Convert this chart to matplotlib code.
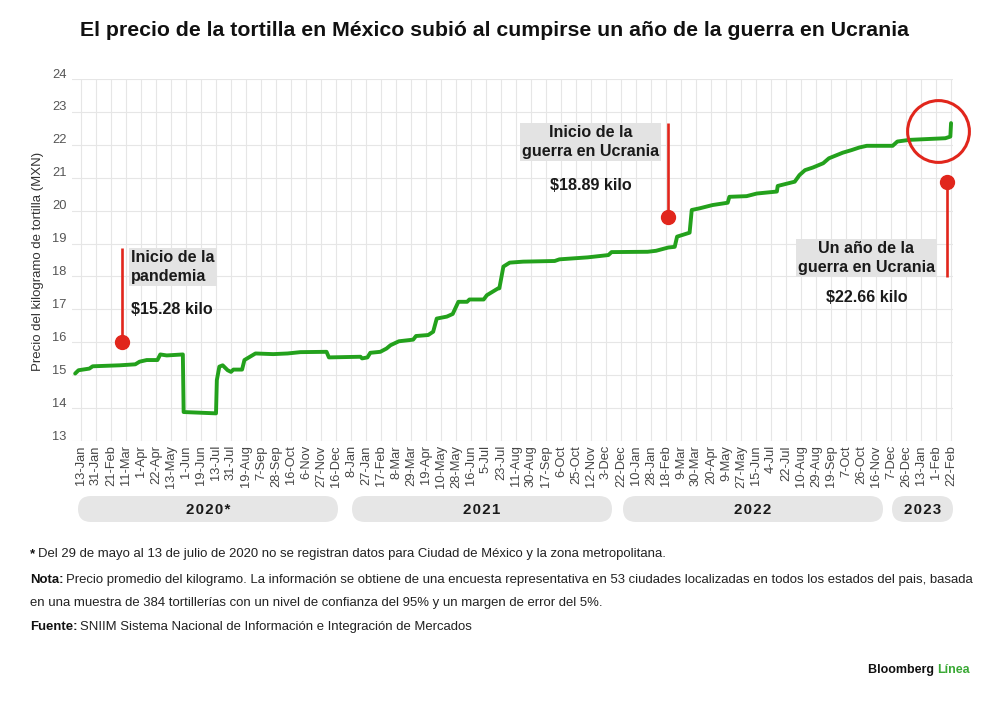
import numpy as np
import matplotlib
matplotlib.use("Agg")
import matplotlib.pyplot as plt
from matplotlib.patches import FancyBboxPatch
from matplotlib.transforms import ScaledTranslation
from matplotlib.text import Annotation
from matplotlib import font_manager

# ---------------- data ----------------
title = "El precio de la tortilla en México subió al cumpirse un año de la guerra en Ucrania"
y_label = "Precio del kilogramo de tortilla (MXN)"

tick_dates = [
    "2020-01-13", "2020-01-31", "2020-02-21", "2020-03-11", "2020-04-01", "2020-04-22",
    "2020-05-13", "2020-06-01", "2020-06-19", "2020-07-13", "2020-07-31", "2020-08-19",
    "2020-09-07", "2020-09-28", "2020-10-16", "2020-11-06", "2020-11-27", "2020-12-16",
    "2021-01-08", "2021-01-27", "2021-02-17", "2021-03-08", "2021-03-29", "2021-04-19",
    "2021-05-10", "2021-05-28", "2021-06-16", "2021-07-05", "2021-07-23", "2021-08-11",
    "2021-08-30", "2021-09-17", "2021-10-06", "2021-10-25", "2021-11-12", "2021-12-03",
    "2021-12-22", "2022-01-10", "2022-01-28", "2022-02-18", "2022-03-09", "2022-03-30",
    "2022-04-20", "2022-05-09", "2022-05-27", "2022-06-15", "2022-07-04", "2022-07-22",
    "2022-08-10", "2022-08-29", "2022-09-19", "2022-10-07", "2022-10-26", "2022-11-16",
    "2022-12-07", "2022-12-26", "2023-01-13", "2023-02-01", "2023-02-22",
]
tick_labels = [
    "13-Jan", "31-Jan", "21-Feb", "11-Mar", "1-Apr", "22-Apr", "13-May", "1-Jun", "19-Jun",
    "13-Jul", "31-Jul", "19-Aug", "7-Sep", "28-Sep", "16-Oct", "6-Nov", "27-Nov", "16-Dec",
    "8-Jan", "27-Jan", "17-Feb", "8-Mar", "29-Mar", "19-Apr", "10-May", "28-May", "16-Jun",
    "5-Jul", "23-Jul", "11-Aug", "30-Aug", "17-Sep", "6-Oct", "25-Oct", "12-Nov", "3-Dec",
    "22-Dec", "10-Jan", "28-Jan", "18-Feb", "9-Mar", "30-Mar", "20-Apr", "9-May", "27-May",
    "15-Jun", "4-Jul", "22-Jul", "10-Aug", "29-Aug", "19-Sep", "7-Oct", "26-Oct", "16-Nov",
    "7-Dec", "26-Dec", "13-Jan", "1-Feb", "22-Feb",
]
y_ticks = list(range(13, 25))
year_labels = ["2020*", "2021", "2022", "2023"]

dates = [
    "2020-01-06", "2020-01-10", "2020-01-23", "2020-01-27", "2020-03-03", "2020-03-24",
    "2020-03-30", "2020-04-09", "2020-04-24", "2020-04-28", "2020-05-07", "2020-05-28",
    "2020-05-29", "2020-07-13", "2020-07-14", "2020-07-17", "2020-07-21", "2020-07-27",
    "2020-07-31", "2020-08-03", "2020-08-14", "2020-08-17", "2020-08-24", "2020-08-31",
    "2020-09-24", "2020-10-12", "2020-10-29", "2020-12-04", "2020-12-07", "2021-01-20",
    "2021-01-22", "2021-01-29", "2021-02-02", "2021-02-16", "2021-02-24", "2021-03-01",
    "2021-03-12", "2021-04-01", "2021-04-05", "2021-04-22", "2021-04-29", "2021-05-04",
    "2021-05-17", "2021-05-24", "2021-05-31", "2021-06-11", "2021-06-14", "2021-07-02",
    "2021-07-06", "2021-07-19", "2021-07-21", "2021-07-26", "2021-08-03", "2021-08-20",
    "2021-09-28", "2021-10-04", "2021-11-08", "2021-12-06", "2021-12-10", "2022-01-24",
    "2022-02-04", "2022-02-21", "2022-03-01", "2022-03-04", "2022-03-21", "2022-03-24",
    "2022-04-04", "2022-04-22", "2022-05-11", "2022-05-13", "2022-06-03", "2022-06-16",
    "2022-07-11", "2022-07-12", "2022-08-02", "2022-08-08", "2022-08-15", "2022-08-25",
    "2022-09-08", "2022-09-16", "2022-10-03", "2022-10-14", "2022-10-24", "2022-11-03",
    "2022-12-09", "2022-12-15", "2022-12-30", "2023-01-16", "2023-02-14", "2023-02-21",
    "2023-02-22",
]
prices = [
    15.05, 15.15, 15.20, 15.27, 15.30, 15.33,
    15.41, 15.46, 15.46, 15.63, 15.60, 15.63,
    13.88, 13.84, 14.85, 15.26, 15.30, 15.15,
    15.10, 15.17, 15.17, 15.46, 15.56, 15.66,
    15.64, 15.66, 15.70, 15.71, 15.54, 15.56,
    15.51, 15.54, 15.68, 15.71, 15.81, 15.91,
    16.03, 16.08, 16.19, 16.22, 16.32, 16.72,
    16.78, 16.86, 17.23, 17.23, 17.30, 17.30,
    17.43, 17.63, 17.64, 18.30, 18.42, 18.45,
    18.47, 18.52, 18.58, 18.65, 18.74, 18.75,
    18.78, 18.88, 18.90, 19.21, 19.33, 20.02,
    20.07, 20.17, 20.24, 20.42, 20.44, 20.52,
    20.58, 20.75, 20.88, 21.08, 21.23, 21.31,
    21.44, 21.59, 21.76, 21.84, 21.92, 21.97,
    21.97, 22.10, 22.15, 22.17, 22.20, 22.25,
    22.66,
]

# annotations: (title, value label, date, line end value, dot value)
ann_pandemic = ("Inicio de la\npandemia", "\\$15.28 kilo", "2020-03-06", 18.86, 16.02)
ann_war = ("Inicio de la\nguerra en Ucrania", "\\$18.89 kilo", "2022-02-21", 22.66, 19.80)
ann_year = ("Un año de la\nguerra en Ucrania", "\\$22.66 kilo", "2023-02-17", 17.99, 20.88)
highlight = ("2023-02-04", 22.42)

footnote = "Del 29 de mayo al 13 de julio de 2020 no se registran datos para Ciudad de México y la zona metropolitana."
nota1 = "Precio promedio del kilogramo. La información se obtiene de una encuesta representativa en 53 ciudades localizadas en todos los estados del pais, basada"
nota2 = "en una muestra de 384 tortillerías con un nivel de confianza del 95% y un margen de error del 5%."
fuente = "SNIIM Sistema Nacional de Información e Integración de Mercados"

# ---------------- styling ----------------
GREEN = "#23a11c"
RED = "#e1261c"
GRID = "#e6e6e6"
names = {f.name for f in font_manager.fontManager.ttflist}
BASE = "Liberation Sans" if "Liberation Sans" in names else "DejaVu Sans"
plt.rcParams["font.family"] = [BASE, "DejaVu Sans"]

W, H = 1000, 701
fig = plt.figure(figsize=(W / 100, H / 100), dpi=100)
fig.patch.set_facecolor("white")


def fx(x):
    return x / W


def fy(y):
    return 1 - y / H


tick_num = np.array(tick_dates, dtype="datetime64[D]").astype(float)
tick_idx = np.arange(len(tick_num), dtype=float)


def to_pos(ds):
    t = np.atleast_1d(np.array(ds, dtype="datetime64[D]").astype(float))
    p = np.interp(t, tick_num, tick_idx)
    lo = t < tick_num[0]
    p[lo] = (t[lo] - tick_num[0]) / (tick_num[1] - tick_num[0])
    hi = t > tick_num[-1]
    p[hi] = tick_idx[-1] + (t[hi] - tick_num[-1]) / (tick_num[-1] - tick_num[-2])
    return p


ax = fig.add_axes([fx(72), fy(441), fx(953) - fx(72), (441 - 79) / H])
ax.set_xlim(-0.6, 58.13)
ax.set_ylim(13, 24)
for s in ax.spines.values():
    s.set_visible(False)
ax.set_xticks(tick_idx)
ax.set_xticklabels(tick_labels, rotation=90, fontsize=9.3, color="#444444")
ax.set_yticks(y_ticks)
ax.set_yticklabels([str(v) for v in y_ticks], fontsize=9.3, color="#555555")
ax.tick_params(axis="both", length=0)
ax.tick_params(axis="x", pad=3)
ax.tick_params(axis="y", pad=4)
for lab in ax.get_yticklabels():
    lab.set_transform(lab.get_transform() + ScaledTranslation(0, 6 / 100, fig.dpi_scale_trans))
ax.grid(True, color=GRID, lw=0.8)
ax.set_axisbelow(True)

# main line
ax.plot(to_pos(dates), prices, color=GREEN, lw=2.8, solid_joinstyle="round",
        solid_capstyle="round", zorder=3, clip_on=False)

PX = 0.72  # points per pixel


def draw_ann(ann, text_off, box_va, val_off, ha):
    head, val, d, y_line, y_dot = ann
    xp = to_pos(d)[0]
    ax.plot([xp, xp], [y_line, y_dot], color=RED, lw=1.9, zorder=4,
            solid_capstyle="butt", clip_on=False)
    ax.plot([xp], [y_dot], "o", color=RED, ms=10, zorder=5, clip_on=False)
    ax.annotate(head, xy=(xp, y_line), xytext=(text_off[0] * PX, text_off[1] * PX),
                textcoords="offset points", ha=ha, va=box_va, fontsize=11.6,
                fontweight="bold", color="#1a1a1a", linespacing=1.32,
                bbox=dict(boxstyle="square,pad=0.14", fc="#e3e3e3", ec="none"), zorder=6)
    ax.annotate(val, xy=(xp, y_line), xytext=(val_off[0] * PX, val_off[1] * PX),
                textcoords="offset points", ha=ha, va="center", fontsize=11.6,
                fontweight="bold", color="#1a1a1a", zorder=6)


draw_ann(ann_pandemic, (9, -2), "top", (9, -61), "left")
draw_ann(ann_war, (-78, -2), "top", (-78, -62), "center")
draw_ann(ann_year, (-81, 2), "bottom", (-81, -21), "center")

# highlight ring
ax.plot(to_pos(highlight[0]), [highlight[1]], "o", ms=44.5, mfc="none", mec=RED,
        mew=2.2, zorder=6, clip_on=False)

# year pills
pills = [(78, 338), (352, 612), (623, 883), (892, 953)]
for (x0, x1), lab in zip(pills, year_labels):
    y0, y1 = 496, 522
    h = (y1 - y0) / 100
    p = FancyBboxPatch((x0 / 100, (H - y1) / 100), (x1 - x0) / 100, h,
                       boxstyle=f"round,pad=0,rounding_size={h/2}",
                       transform=fig.dpi_scale_trans, fc="#e6e6e6", ec="none")
    fig.add_artist(p)
    fig.text(fx((x0 + x1) / 2), fy(509.5), "\u200a".join(lab), ha="center", va="center",
             fontsize=10.8, fontweight="bold", color="#1a1a1a")

renderer = fig.canvas.get_renderer()


def fit(t, target):
    w = t.get_window_extent(renderer).width
    t.set_fontsize(t.get_fontsize() * target / w)


# title
tt = fig.text(fx(494), fy(31), title, ha="center", va="center", fontsize=15,
              fontweight="bold", color="#111111")
fit(tt, 832)

# y label
fig.text(fx(38), fy(261), y_label, rotation=90, ha="center", va="center",
         fontsize=9.5, color="#333333")

# footer


def two_part(y, bold, rest, size):
    b = fig.text(fx(30), fy(y), bold, ha="left", va="bottom", fontsize=size,
                 fontweight="bold", color="#111111")
    a = Annotation(rest, xy=(1, 0), xycoords=b, xytext=(2.0, 0), textcoords="offset points",
                   ha="left", va="bottom", fontsize=size, color="#222222")
    fig.add_artist(a)
    return b, a


FS = 9.45
two_part(560, "*", footnote, FS)
two_part(586, "Nota:", nota1, FS)
fig.text(fx(30), fy(609), nota2, ha="left", va="bottom", fontsize=FS, color="#222222")
two_part(633, "Fuente:", fuente, FS)

# logo
lg = fig.text(fx(970), fy(670), "Línea", ha="right", va="center", fontsize=9,
              fontweight="bold", color="#3aa935")
la = Annotation("Bloomberg ", xy=(0, 0.5), xycoords=lg, ha="right", va="center",
                fontsize=9, fontweight="bold", color="#111111")
fig.add_artist(la)

fig.savefig("out.png", dpi=100, facecolor="white")
